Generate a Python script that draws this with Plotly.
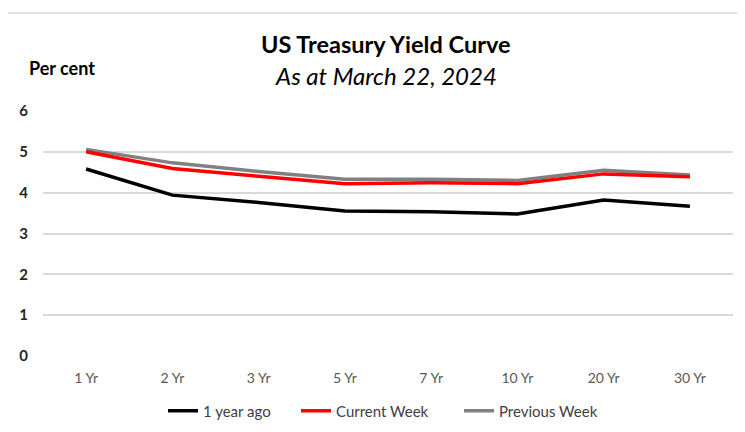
import plotly.graph_objects as go

categories = ["1 Yr", "2 Yr", "3 Yr", "5 Yr", "7 Yr", "10 Yr", "20 Yr", "30 Yr"]
year_ago = [4.58, 3.94, 3.76, 3.55, 3.53, 3.48, 3.82, 3.67]
current_week = [5.00, 4.59, 4.40, 4.22, 4.24, 4.22, 4.46, 4.39]
previous_week = [5.06, 4.73, 4.52, 4.33, 4.33, 4.30, 4.55, 4.43]
y_ticks = [0, 1, 2, 3, 4, 5, 6]

FONT = "Lato"
OFF = 8  # page body margin offset

fig = go.Figure()
fig.add_trace(go.Scatter(x=categories, y=year_ago, name="1 year ago", mode="lines",
                         line=dict(color="#000000", width=3.5), legend="legend"))
fig.add_trace(go.Scatter(x=categories, y=previous_week, name="Previous Week", mode="lines",
                         line=dict(color="#808080", width=3.5), legend="legend3"))
fig.add_trace(go.Scatter(x=categories, y=current_week, name="Current Week", mode="lines",
                         line=dict(color="#FF0000", width=3.5), legend="legend2"))

W, H = 745, 432
L = 43 - OFF
T = 111 - OFF
R = W - (733 - OFF)
B = H - (356 - OFF)
pw = W - L - R
ph = H - T - B

def px(x):
    return (x - OFF - L) / pw

def py(y):
    return (H - B - (y - OFF)) / ph

def leg(xpix):
    return dict(orientation="h", x=px(xpix), xanchor="left", y=py(411), yanchor="middle",
                font=dict(size=15, color="#404040"), bgcolor="rgba(0,0,0,0)")

fig.update_layout(
    width=W, height=H,
    margin=dict(l=L, r=R, t=T, b=B, autoexpand=False),
    paper_bgcolor="white", plot_bgcolor="white",
    font=dict(family=FONT, color="#404040"),
    showlegend=True,
    legend=leg(163),
    legend2=leg(296),
    legend3=leg(459),
    xaxis=dict(type="category", range=[-0.5, len(categories) - 0.5], automargin=False,
               showgrid=False, zeroline=False, showline=False,
               tickfont=dict(size=14, color="#595959"), ticks="", ticklabelstandoff=12),
    yaxis=dict(range=[0, 6], tickvals=y_ticks, showgrid=True, gridcolor="#D9D9D9", gridwidth=1.5,
               automargin=False, zeroline=False, showline=False, ticks="",
               tickfont=dict(size=15, color="#262626", family=FONT, weight="bold"),
               ticklabelstandoff=14),
    shapes=[dict(type="rect", xref="paper", yref="paper",
                 x0=px(7), x1=px(760), y0=py(450), y1=py(13),
                 line=dict(color="#D9D9D9", width=1.5), fillcolor="rgba(0,0,0,0)", layer="below")],
    annotations=[
        dict(text="<b>US Treasury Yield Curve</b>", xref="paper", yref="paper",
             x=px(386), y=py(44), xanchor="center", yanchor="middle", showarrow=False,
             font=dict(size=23.5, color="#000000", family=FONT)),
        dict(text="<i>As at March 22, 2024</i>", xref="paper", yref="paper",
             x=px(386), y=py(75), xanchor="center", yanchor="middle", showarrow=False,
             font=dict(size=24, color="#000000", family=FONT)),
        dict(text="<b>Per cent</b>", xref="paper", yref="paper",
             x=px(27), y=py(68), xanchor="left", yanchor="middle", showarrow=False,
             font=dict(size=18, color="#000000", family=FONT)),
    ],
)

fig.write_html("out.html")
